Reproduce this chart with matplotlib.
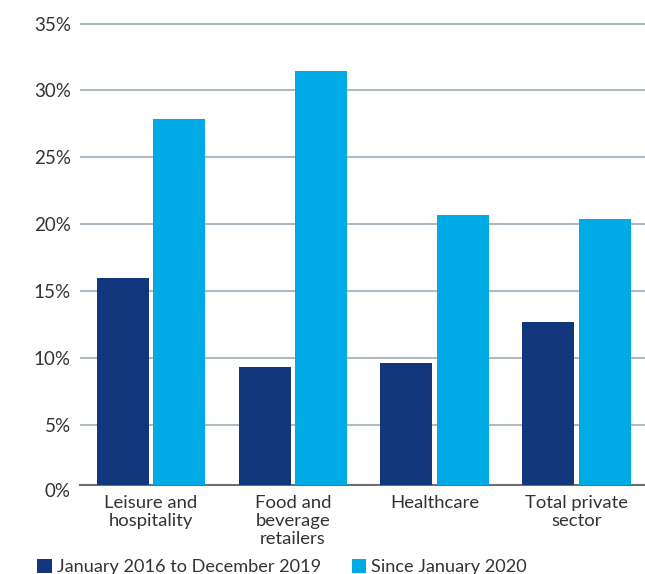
import matplotlib
matplotlib.use("Agg")
import matplotlib.pyplot as plt
import numpy as np

plt.rcParams['font.family'] = ['Lato', 'DejaVu Sans']

categories = ["Leisure and\nhospitality", "Food and\nbeverage\nretailers", "Healthcare", "Total private\nsector"]
pre_covid = [15.97, 9.31, 9.61, 12.67]
since_2020 = [27.85, 31.43, 20.67, 20.37]
series_names = ["January 2016 to December 2019", "Since January 2020"]
yticks = [5, 10, 15, 20, 25, 30, 35]

dark_blue = '#12367c'
light_blue = '#00aae5'
text_col = '#333333'

fig = plt.figure(figsize=(6.45, 5.74), dpi=100)
ax = fig.add_axes([0.1242, 0.155, 0.8794, 0.8109])

x = np.arange(len(categories))
w = 0.367
off = 0.199
b1 = ax.bar(x - off, pre_covid, w, color=dark_blue, label=series_names[0], zorder=3)
b2 = ax.bar(x + off, since_2020, w, color=light_blue, label=series_names[1], zorder=3)

ax.set_xlim(-0.5, 3.5)
ax.set_ylim(0.49, 35.3)

# grid lines at each 5%
ax.set_yticks(yticks)
ax.set_yticklabels([f"{t}%" for t in yticks])
ax.yaxis.grid(True, color='#afbac2', linewidth=1.5)
ax.set_axisbelow(True)

ax.set_xticks(x)
ax.set_xticklabels(categories, linespacing=1.12)

ax.tick_params(axis='y', length=0, pad=6.7, labelsize=13.5, labelcolor=text_col)
ax.tick_params(axis='x', length=0, pad=7.5, labelsize=13.3, labelcolor=text_col)

for s in ['top', 'right', 'left']:
    ax.spines[s].set_visible(False)
ax.spines['bottom'].set_color('#6e6f72')
ax.spines['bottom'].set_linewidth(1.5)

# zero label sits below the baseline
ax.text(-0.0164, 0, "0%", transform=ax.get_yaxis_transform(), ha='right', va='center',
        fontsize=13.5, color=text_col)

fig.legend(handles=[b1, b2], loc='lower left', bbox_to_anchor=(0.058, -0.002), ncol=2,
           frameon=False, fontsize=13.1, handlelength=0.8, handleheight=0.8,
           handletextpad=0.25, columnspacing=1.72, borderaxespad=0, borderpad=0,
           labelcolor=text_col)

fig.savefig("out.png", dpi=100)
